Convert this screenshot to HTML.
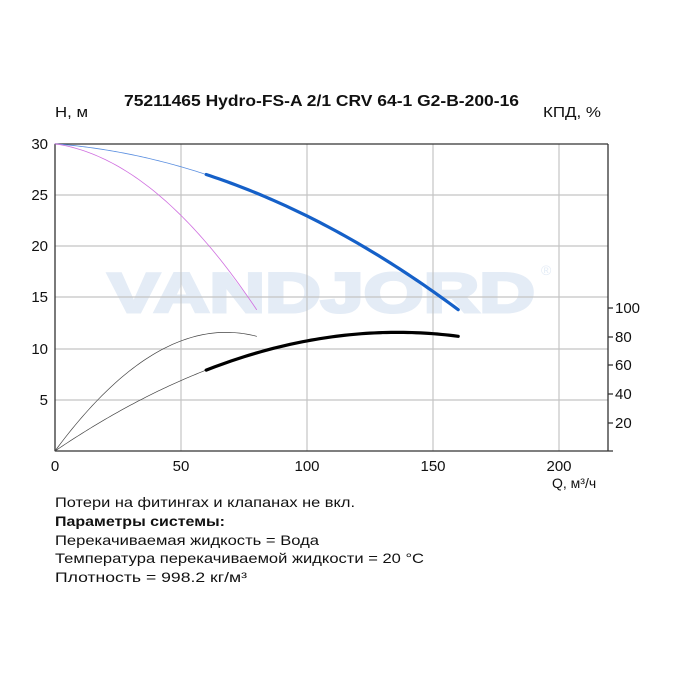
<!DOCTYPE html>
<html><head><meta charset="utf-8"><style>
html,body{margin:0;padding:0;background:#fff;}
svg{display:block;font-family:"Liberation Sans","DejaVu Sans",sans-serif;}
</style></head><body>
<svg id="s" width="681" height="681" xmlns="http://www.w3.org/2000/svg">
<rect width="681" height="681" fill="#fff"/>
<text x="124" y="106" font-size="15.5" font-weight="bold" fill="#111" textLength="395" lengthAdjust="spacingAndGlyphs">75211465 Hydro-FS-A 2/1 CRV 64-1 G2-B-200-16</text>
<text x="55" y="117" font-size="15" fill="#111" textLength="33" lengthAdjust="spacingAndGlyphs">Н, м</text>
<text x="543" y="117" font-size="15" fill="#111" textLength="58" lengthAdjust="spacingAndGlyphs">КПД, %</text>
<text x="108" y="312" font-size="56" font-weight="bold" fill="#e4ecf6" textLength="427" lengthAdjust="spacingAndGlyphs" stroke="#e4ecf6" stroke-width="3">VANDJORD</text>
<text x="541" y="275" font-size="14" fill="#e4ecf6">®</text>
<g stroke="#c4c4c4" stroke-width="1.2">
<line x1="181" y1="144" x2="181" y2="451"/><line x1="307" y1="144" x2="307" y2="451"/>
<line x1="433" y1="144" x2="433" y2="451"/><line x1="559" y1="144" x2="559" y2="451"/>
<line x1="55" y1="195" x2="608" y2="195"/><line x1="55" y1="246" x2="608" y2="246"/>
<line x1="55" y1="297" x2="608" y2="297"/><line x1="55" y1="349" x2="608" y2="349"/>
<line x1="55" y1="400" x2="608" y2="400"/>
</g>
<g stroke="#333" stroke-width="1.3" fill="none">
<line x1="55" y1="144" x2="608" y2="144"/>
<line x1="55" y1="144" x2="55" y2="451"/>
<line x1="608" y1="144" x2="608" y2="451"/>
<line x1="55" y1="451" x2="613" y2="451"/>
<line x1="608" y1="308" x2="613" y2="308"/><line x1="608" y1="337" x2="613" y2="337"/>
<line x1="608" y1="365" x2="613" y2="365"/><line x1="608" y1="394" x2="613" y2="394"/>
<line x1="608" y1="423" x2="613" y2="423"/>
</g>
<g font-size="15" fill="#111" text-anchor="end">
<text x="48" y="149">30</text><text x="48" y="200">25</text><text x="48" y="251">20</text>
<text x="48" y="302">15</text><text x="48" y="354">10</text><text x="48" y="405">5</text>
</g>
<g font-size="15" fill="#111">
<text x="615" y="313">100</text><text x="615" y="342">80</text><text x="615" y="370">60</text>
<text x="615" y="399">40</text><text x="615" y="428">20</text>
</g>
<g font-size="15" fill="#111" text-anchor="middle">
<text x="55" y="471">0</text><text x="181" y="471">50</text><text x="307" y="471">100</text>
<text x="433" y="471">150</text><text x="559" y="471">200</text>
</g>
<text x="552" y="488" font-size="14" fill="#111">Q, м³/ч</text>
<g id="curves" fill="none" stroke-linecap="round"></g>
<g font-size="14" fill="#111" lengthAdjust="spacingAndGlyphs">
<text x="55" y="507" textLength="300" lengthAdjust="spacingAndGlyphs">Потери на фитингах и клапанах не вкл.</text>
<text x="55" y="526" font-weight="bold" textLength="170" lengthAdjust="spacingAndGlyphs">Параметры системы:</text>
<text x="55" y="545" textLength="264" lengthAdjust="spacingAndGlyphs">Перекачиваемая жидкость = Вода</text>
<text x="55" y="563" textLength="369" lengthAdjust="spacingAndGlyphs">Температура перекачиваемой жидкости = 20 °C</text>
<text x="55" y="582" textLength="192" lengthAdjust="spacingAndGlyphs">Плотность = 998.2 кг/м³</text>
</g>
</svg>
<script>
var X=function(q){return 55+q*2.52;},Y=function(h){return 451-h*10.24;};
function H(q){return 30-0.01925*q-0.0005125*q*q;}
function M(q){return 30-0.0358*q-0.002083*q*q;}
function E(q){return 0.1667*q-0.000571*q*q-2.08e-7*q*q*q;}
function E2(q){return E(2*q);}
function path(f,a,b,col,w){var d="";for(var i=0;i<=60;i++){var q=a+(b-a)*i/60;d+=(i?"L":"M")+X(q).toFixed(2)+" "+Y(f(q)).toFixed(2);}
var p=document.createElementNS("http://www.w3.org/2000/svg","path");p.setAttribute("d",d);p.setAttribute("stroke",col);p.setAttribute("stroke-width",w);document.getElementById("curves").appendChild(p);}
path(H,0,60,"#5b8fe0",0.8);path(H,60,160,"#1560c8",3.2);
path(M,0,80,"#d070e0",0.8);
path(E2,0,80,"#444",0.7);path(E,0,60,"#444",0.7);path(E,60,160,"#000",3.2);
</script>
</body></html>
